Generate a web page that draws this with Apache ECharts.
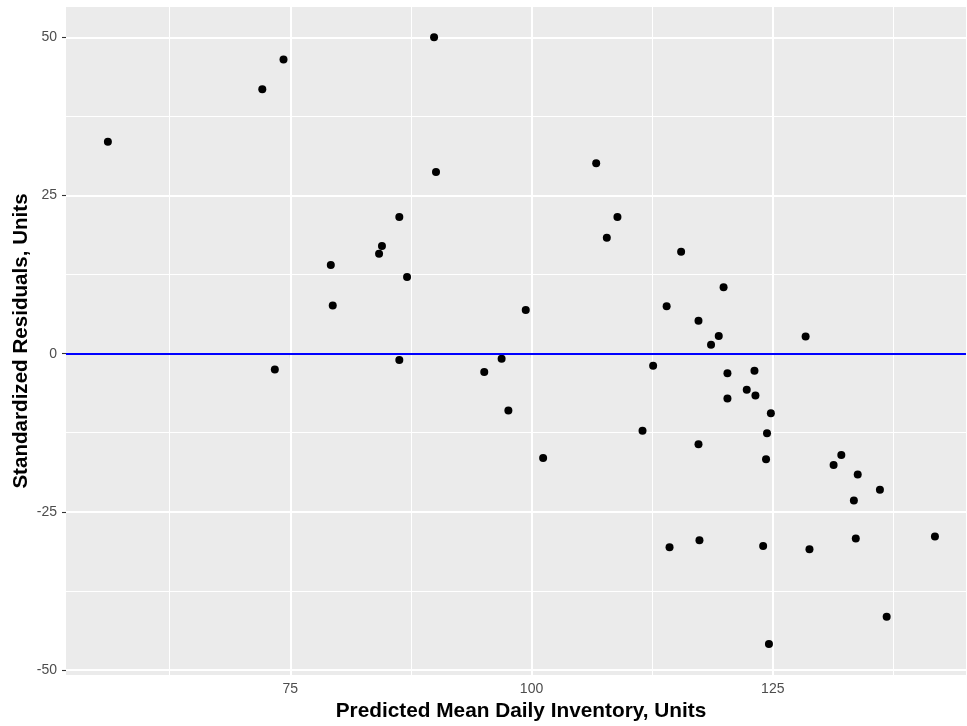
<!DOCTYPE html>
<html>
<head>
<meta charset="utf-8">
<script src="https://cdn.jsdelivr.net/npm/echarts@6/dist/echarts.min.js"></script>
<style>
html,body{margin:0;padding:0;background:#fff;}
#chart{width:967px;height:726px;}
</style>
</head>
<body>
<div id="chart"></div>
<script>
// ---- data ----
var predictedX = [56.1, 72.1, 74.3, 73.4, 79.2, 79.4, 84.2, 84.5, 86.3, 86.3, 87.1, 89.9, 90.1, 95.1, 96.9, 97.6, 99.4, 101.2, 106.7, 107.8, 108.9, 111.5, 112.6, 114.0, 114.3, 115.5, 117.3, 117.3, 117.4, 118.6, 119.4, 119.9, 120.3, 120.3, 122.3, 123.1, 123.2, 124.0, 124.4, 124.3, 124.6, 124.8, 128.4, 128.8, 131.3, 132.1, 133.4, 133.6, 133.8, 136.1, 136.8, 141.8];
var residualY  = [33.5, 41.8, 46.5, -2.5, 14.0, 7.6, 15.8, 17.0, 21.6, -1.0, 12.1, 50.0, 28.7, -2.9, -0.8, -9.0, 6.9, -16.5, 30.1, 18.3, 21.6, -12.2, -1.9, 7.5, -30.6, 16.1, 5.2, -14.3, -29.5, 1.4, 2.8, 10.5, -3.1, -7.1, -5.7, -2.7, -6.6, -30.4, -12.6, -16.7, -45.9, -9.4, 2.7, -30.9, -17.6, -16.0, -23.2, -29.2, -19.1, -21.5, -41.6, -28.9];
var xTicks = [75, 100, 125];
var yTicks = [-50, -25, 0, 25, 50];
var xMinor = [62.5, 87.5, 112.5, 137.5];
var yMinor = [-37.5, -12.5, 12.5, 37.5];
var refLineY = [0];
var xTitle = 'Predicted Mean Daily Inventory, Units';
var yTitle = 'Standardized Residuals, Units';

// ---- chart ----
var points = predictedX.map(function (x, i) { return [x, residualY[i]]; });
var gridLines = [];
xMinor.forEach(function (v) { gridLines.push({ xAxis: v, lineStyle: { color: '#ffffff', width: 1, type: 'solid' } }); });
yMinor.forEach(function (v) { gridLines.push({ yAxis: v, lineStyle: { color: '#ffffff', width: 1, type: 'solid' } }); });
xTicks.forEach(function (v) { gridLines.push({ xAxis: v, lineStyle: { color: '#ffffff', width: 2, type: 'solid' } }); });
yTicks.forEach(function (v) { gridLines.push({ yAxis: v, lineStyle: { color: '#ffffff', width: 2, type: 'solid' } }); });

var font = 'Liberation Sans, Arial, Helvetica, sans-serif';
var chart = echarts.init(document.getElementById('chart'), null, { renderer: 'canvas' });
chart.setOption({
  animation: false,
  backgroundColor: '#ffffff',
  grid: { left: 66, right: 1, top: 7, bottom: 51, show: true, backgroundColor: '#EBEBEB', borderWidth: 0, containLabel: false, outerBoundsMode: 'none' },
  xAxis: {
    type: 'value', min: 51.76, max: 145.02,
    axisLine: { show: false },
    splitLine: { show: false },
    axisTick: { show: true, customValues: xTicks, length: 4, lineStyle: { color: '#333333', width: 1.1 } },
    axisLabel: { customValues: xTicks, color: '#4D4D4D', fontSize: 14, fontFamily: font, margin: 7 },
    name: xTitle, nameLocation: 'middle', nameGap: 26, nameMoveOverlap: false,
    nameTextStyle: { color: '#000', fontSize: 20.8, fontWeight: 'bold', fontFamily: font, verticalAlign: 'top', padding: [0, 0, 0, 10] }
  },
  yAxis: {
    type: 'value', min: -50.79, max: 54.79,
    axisLine: { show: false },
    splitLine: { show: false },
    axisTick: { show: true, customValues: yTicks, length: 4, lineStyle: { color: '#333333', width: 1.1 } },
    axisLabel: { customValues: yTicks, color: '#4D4D4D', fontSize: 14, fontFamily: font, margin: 9 },
    name: yTitle, nameLocation: 'middle', nameGap: 34, nameMoveOverlap: false,
    nameTextStyle: { color: '#000', fontSize: 20.6, fontWeight: 'bold', fontFamily: font }
  },
  series: [
    {
      type: 'scatter', data: [], z: 1, silent: true,
      markLine: { z: 1, silent: true, symbol: ['none', 'none'], label: { show: false }, animation: false, emphasis: { disabled: true }, data: gridLines }
    },
    {
      type: 'scatter', data: points, z: 3, symbol: 'circle', symbolSize: 8,
      itemStyle: { color: '#000000', opacity: 1 }, silent: true
    },
    {
      type: 'scatter', data: [], z: 4, silent: true,
      markLine: { z: 4, silent: true, symbol: ['none', 'none'], label: { show: false }, animation: false, emphasis: { disabled: true },
        data: refLineY.map(function (v) { return { yAxis: v, lineStyle: { color: '#0000FF', width: 1.8, type: 'solid' } }; }) }
    }
  ]
});
</script>
</body>
</html>
